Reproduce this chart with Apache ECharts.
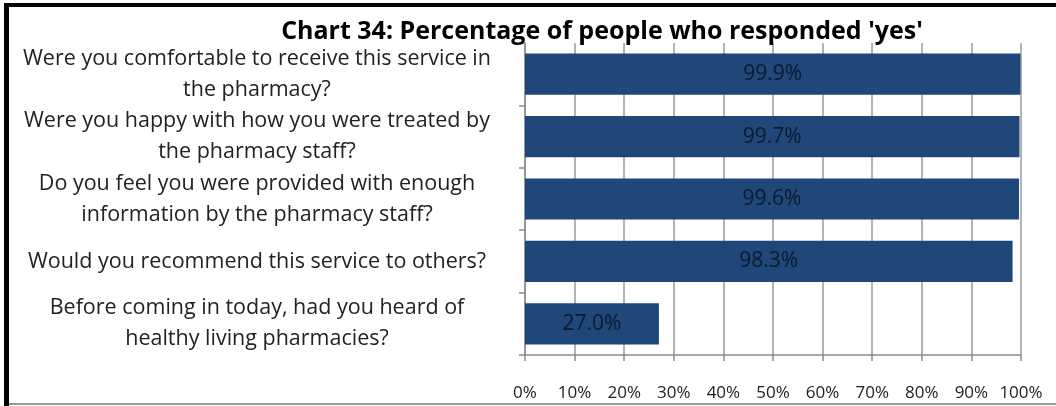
<!DOCTYPE html>
<html>
<head>
<meta charset="utf-8">
<script src="https://cdn.jsdelivr.net/npm/echarts@6/dist/echarts.min.js"></script>
<style>
html,body{margin:0;padding:0;background:#fff;}
#c{width:1056px;height:406px;}
</style>
</head>
<body>
<div id="c"></div>
<script>
const categories = [
  "Were you comfortable to receive this service in\nthe pharmacy?",
  "Were you happy with how you were treated by\nthe pharmacy staff?",
  "Do you feel you were provided with enough\ninformation by the pharmacy staff?",
  "Would you recommend this service to others?",
  "Before coming in today, had you heard of\nhealthy living pharmacies?"
];
const values = [99.9, 99.7, 99.6, 98.3, 27.0];
const xTicks = [0, 10, 20, 30, 40, 50, 60, 70, 80, 90, 100];
const titleText = "Chart 34: Percentage of people who responded 'yes'";

const chart = echarts.init(document.getElementById('c'));
chart.setOption({
  animation: false,
  title: {
    text: titleText,
    left: 597, top: 14, textAlign: 'center',
    textStyle: {fontFamily: 'Open Sans', fontWeight: 'bold', fontSize: 25, color: '#000'}
  },
  grid: {left: 525, right: 35, top: 43, bottom: 51, containLabel: false},
  xAxis: {
    type: 'value', min: xTicks[0], max: xTicks[xTicks.length - 1], interval: 10,
    axisLine: {show: true, lineStyle: {color: '#8c8c8c', width: 1.5}},
    axisTick: {show: true, length: 6, lineStyle: {color: '#8c8c8c', width: 1.5}},
    splitLine: {show: true, lineStyle: {color: '#9a9a9a', width: 1.5}},
    axisLabel: {formatter: '{value}%', margin: 30, fontFamily: 'Open Sans', fontSize: 17, color: '#222'}
  },
  yAxis: {
    type: 'category', data: categories, inverse: true,
    axisLine: {show: true, lineStyle: {color: '#8c8c8c', width: 1.5}},
    axisTick: {show: true, length: 6, lineStyle: {color: '#8c8c8c', width: 1.5}},
    axisLabel: {align: 'center', margin: 268, fontFamily: 'Open Sans', fontSize: 21.5, lineHeight: 31, color: '#222'}
  },
  series: [{
    type: 'bar', data: values, barWidth: '66%',
    itemStyle: {color: '#1F4779'},
    label: {show: true, position: 'inside', formatter: p => p.value.toFixed(1) + '%',
      fontFamily: 'Open Sans', fontSize: 21, color: '#0d1a2b'}
  }],
  graphic: [
    {type: 'rect', shape: {x: 4, y: 4, width: 5, height: 402}, style: {fill: '#000'}},
    {type: 'rect', shape: {x: 4, y: 3, width: 1052, height: 4}, style: {fill: '#000'}},
    {type: 'rect', shape: {x: 9, y: 403, width: 1047, height: 2}, style: {fill: '#999'}}
  ]
});
</script>
</body>
</html>
